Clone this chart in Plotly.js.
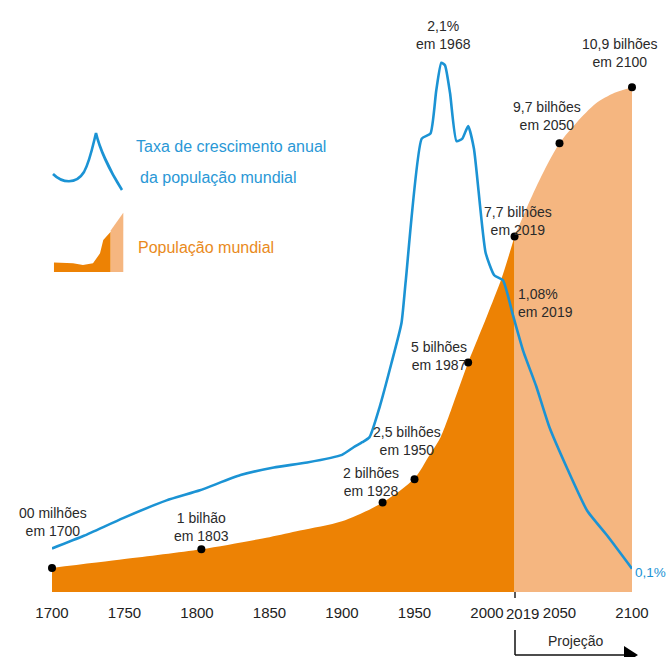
<!DOCTYPE html>
<html>
<head>
<meta charset="utf-8">
<script src="https://cdn.plot.ly/plotly-3.0.1.min.js"></script>
<style>html,body{margin:0;padding:0;background:#fff}#chart{width:667px;height:657px}</style>
</head>
<body>
<div id="chart"></div>
<script>
// ---- data ----
const rateYears = [1700,1722,1749,1779,1802,1830,1853,1876,1900,1908,1914,1919,1926,1934,1941,1944,1955,1961,1965,1968.5,1971,1974.5,1979,1983,1987,1991,1999,2005,2011,2018,2025,2034,2043,2055,2069,2083,2100];
const rateValues = [0.18,0.23,0.30,0.37,0.41,0.47,0.50,0.52,0.55,0.58,0.60,0.62,0.74,0.91,1.07,1.24,1.80,1.82,1.99,2.10,2.09,1.98,1.79,1.80,1.85,1.76,1.35,1.26,1.24,1.10,0.96,0.82,0.66,0.50,0.33,0.23,0.10];

const popYears = [1700,1750,1803,1850,1871,1900,1928,1950,1960,1968,1980,1987,2000,2010,2019];
const popValues = [0.6,0.79,1.0,1.26,1.40,1.6,2.0,2.52,3.0,3.4,4.4,5.0,6.0,6.8,7.7];

const projYears = [2019,2030,2040,2050,2062,2075,2088,2100];
const projValues = [7.7,8.5,9.15,9.7,10.15,10.55,10.78,10.9];

const markYears = [1700,1803,1928,1950,1987,2019,2050,2100];
const markValues = [0.6,1.0,2.0,2.5,5.0,7.7,9.7,10.9];

const tickYears = [1700,1750,1800,1850,1900,1950,2000,2050,2100];
const tickLabels = ['1700','1750','1800','1850','1900','1950','2000','2050','2100'];
const splitYear = 2019;
const splitLabel = '2019';

// ---- layout helpers (pixel -> paper) ----
const W=667,H=657,ML=52,MR=35,MT=20,MB=65;
const PW=W-ML-MR, PH=H-MT-MB;
const X = px => (px-ML)/PW;
const Y = py => (H-MB-py)/PH;
const P = pts => pts.map((p,i)=>(i?'L':'M')+X(p[0]).toFixed(4)+','+Y(p[1]).toFixed(4)).join(' ')+' Z';

const FONT = '"Liberation Sans", Arial, Helvetica, sans-serif';
const BLUE = '#1b93d4', DARK = '#ed8204', LIGHT = '#f5b680';
const TICKSIZE = 15;

const traces = [
  {x: popYears, y: popValues, type:'scatter', mode:'lines', fill:'tozeroy',
   fillcolor: DARK, line:{color: DARK, width:0, shape:'spline', smoothing:0.8}, hoverinfo:'skip', yaxis:'y'},
  {x: projYears, y: projValues, type:'scatter', mode:'lines', fill:'tozeroy',
   fillcolor: LIGHT, line:{color: LIGHT, width:0, shape:'spline', smoothing:0.8}, hoverinfo:'skip', yaxis:'y'},
  {x: markYears, y: markValues, type:'scatter', mode:'markers', cliponaxis:false,
   marker:{color:'#000', size:8}, hoverinfo:'skip', yaxis:'y'},
  {x: rateYears, y: rateValues, type:'scatter', mode:'lines', cliponaxis:false,
   line:{color: BLUE, width:2.6, shape:'spline', smoothing:0.5}, hoverinfo:'skip', yaxis:'y2'}
];

function ann(text, cx, cy, opts){
  return Object.assign({text, xref:'paper', yref:'paper', x:X(cx), y:Y(cy),
    xanchor:'center', yanchor:'middle', showarrow:false, align:'center',
    font:{family:FONT, size:14, color:'#2a2a2a'}}, opts||{});
}

const annotations = [
  ann('2,1%<br>em 1968', 443, 35),
  ann('10,9 bilhões<br>em 2100', 620, 53),
  ann('9,7 bilhões<br>em 2050', 547, 116),
  ann('7,7 bilhões<br>em 2019', 518, 221),
  ann('1,08%<br>em 2019', 516, 303, {xanchor:'left', align:'left'}),
  ann('5 bilhões<br>em 1987', 439, 356),
  ann('2,5 bilhões<br>em 1950', 407, 441),
  ann('2 bilhões<br>em 1928', 371, 482),
  ann('1 bilhão<br>em 1803', 201, 527),
  ann('00 milhões<br>em 1700', 53, 522),
  ann('0,1%', 633, 572, {xanchor:'left', font:{family:FONT, size:13.5, color:BLUE}}),
  ann('Projeção', 575, 641, {font:{family:FONT, size:14, color:'#2a2a2a'}}),
  ann('Taxa de crescimento anual', 134, 147, {xanchor:'left', font:{family:FONT, size:16, color:'#2a98d6'}}),
  ann('da população mundial', 138, 177, {xanchor:'left', font:{family:FONT, size:16, color:'#2a98d6'}}),
  ann('População mundial', 136, 247, {xanchor:'left', font:{family:FONT, size:16, color:'#e98a1c'}}),
  // 2019 axis label, nudged right as in the reference
  {text: splitLabel, xref:'x', yref:'paper', x: splitYear, y: Y(613), xshift: 8,
   xanchor:'center', yanchor:'middle', showarrow:false,
   font:{family:FONT, size:TICKSIZE, color:'#222'}}
];

const shapes = [
  // legend icon: growth curve
  {type:'path', xref:'paper', yref:'paper',
   path: 'M'+X(53)+','+Y(174)+' C'+X(62)+','+Y(183)+' '+X(76)+','+Y(185)+' '+X(84)+','+Y(172)+
         ' C'+X(90)+','+Y(161)+' '+X(93)+','+Y(145)+' '+X(96)+','+Y(133)+
         ' C'+X(99)+','+Y(146)+' '+X(108)+','+Y(168)+' '+X(122)+','+Y(190),
   line:{color:BLUE, width:2.6}},
  // legend icon: population areas
  {type:'path', xref:'paper', yref:'paper', fillcolor:DARK, line:{width:0},
   path: P([[54,272],[54,262.5],[73,263.3],[83,265],[93,263.3],[100,253.3],[103.3,240],[110.7,231.7],[110.7,272]])},
  {type:'path', xref:'paper', yref:'paper', fillcolor:LIGHT, line:{width:0},
   path: P([[110.7,272],[110.7,230.5],[123.3,212.7],[123.3,272]])},
  // tick at 2019
  {type:'line', xref:'paper', yref:'paper', x0:X(515), x1:X(515), y0:Y(592), y1:Y(598), line:{color:'#222', width:1.5}},
  // projection bracket
  {type:'line', xref:'paper', yref:'paper', x0:X(515), x1:X(515), y0:Y(630), y1:Y(655), line:{color:'#111', width:1.5}},
  {type:'line', xref:'paper', yref:'paper', x0:X(515), x1:X(626), y0:Y(655), y1:Y(655), line:{color:'#111', width:1.5}},
  {type:'path', xref:'paper', yref:'paper', fillcolor:'#000', line:{width:0},
   path: P([[624,646],[638,655],[624,664]])}
];

const layout = {
  width:W, height:H,
  margin:{l:ML, r:MR, t:MT, b:MB, pad:0},
  paper_bgcolor:'#fff', plot_bgcolor:'#fff',
  showlegend:false,
  xaxis:{range:[1700,2100], tickmode:'array', tickvals:tickYears, ticktext:tickLabels,
         tickangle:0, ticks:'', showgrid:false, zeroline:false, showline:false, ticklabelstandoff:10,
         tickfont:{family:FONT, size:TICKSIZE, color:'#222'}, fixedrange:true},
  yaxis:{range:[0.085,(H-MB-MT+4)/47+0.085], visible:false, showgrid:false, zeroline:false, fixedrange:true},
  yaxis2:{range:[2/253,(H-MB-MT+2)/253], overlaying:'y', visible:false, showgrid:false, zeroline:false, fixedrange:true},
  annotations, shapes
};

Plotly.newPlot('chart', traces, layout, {displayModeBar:false, staticPlot:true});
</script>
</body>
</html>
